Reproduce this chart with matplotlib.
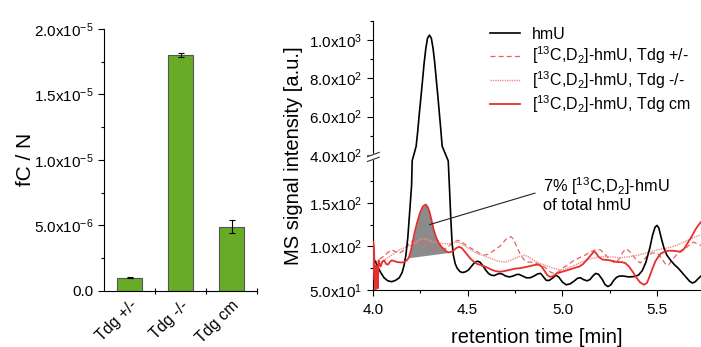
import numpy as np
import matplotlib.pyplot as plt

plt.rcParams['font.family'] = ['Liberation Sans', 'DejaVu Sans']
plt.rcParams['mathtext.fontset'] = 'custom'
plt.rcParams['mathtext.rm'] = 'Liberation Sans'
plt.rcParams['mathtext.it'] = 'Liberation Sans:italic'
plt.rcParams['axes.linewidth'] = 0.8

# left panel: fC / N per genotype
groups = ['Tdg +/-', 'Tdg -/-', 'Tdg cm']
fc_n = [1.0e-6, 1.80e-5, 4.9e-6]
fc_err = [4e-8, 1.6e-7, 5.1e-7]

# right panel: chromatograms (retention time in min, intensity in a.u.)
t_hmu = [4.00, 4.01, 4.02, 4.03, 4.045, 4.06, 4.08, 4.10, 4.12, 4.14, 4.155, 4.165, 4.175,
         4.185, 4.195, 4.205, 4.208, 4.229, 4.238, 4.245, 4.254, 4.262, 4.271, 4.280, 4.289,
         4.299, 4.309, 4.318, 4.327, 4.336, 4.344, 4.352, 4.359, 4.366, 4.398, 4.405, 4.412,
         4.418, 4.425, 4.435, 4.445, 4.46, 4.475, 4.49, 4.505, 4.52, 4.535, 4.55, 4.565,
         4.58, 4.595, 4.61, 4.625, 4.64, 4.655, 4.67, 4.685, 4.70, 4.72, 4.74, 4.755, 4.77,
         4.79, 4.81, 4.83, 4.85, 4.87, 4.885, 4.90, 4.915, 4.93, 4.95, 4.965, 4.98, 5.00,
         5.02, 5.04, 5.06, 5.08, 5.095, 5.11, 5.13, 5.145, 5.16, 5.175, 5.19, 5.21, 5.225,
         5.24, 5.255, 5.27, 5.285, 5.30, 5.32, 5.35, 5.38, 5.40, 5.42, 5.44, 5.46, 5.475,
         5.488, 5.498, 5.508, 5.52, 5.535, 5.55, 5.57, 5.59, 5.61, 5.63, 5.65, 5.67, 5.685,
         5.70, 5.715, 5.73]
v_hmu = [88, 84, 80, 75, 69, 64, 60.5, 59.5, 61, 64, 70, 78, 90,
         110, 140, 170, 198, 445, 530, 609, 700, 783, 880, 957, 1010,
         1026, 1010, 957, 880, 783, 700, 609, 530, 445, 198, 165, 130,
         105, 90, 80, 75, 71, 70, 71, 73, 77, 81, 83, 82,
         78, 73, 69, 67, 66.5, 68, 69, 68, 66, 65, 66, 67.5, 68,
         66, 64, 64, 66, 68.5, 69, 65, 61, 61, 64, 67, 65, 59,
         56, 57, 60, 63.5, 64, 62, 60.5, 62, 66, 69, 68, 62, 56,
         54, 56, 61, 64.5, 66, 66, 65, 65.5, 67, 72, 82, 98, 113,
         122, 124, 121, 110, 98, 90, 84, 79, 75, 70, 65, 60, 58,
         59.5, 63, 66]

t_het = [4.00, 4.02, 4.04, 4.06, 4.08, 4.10, 4.12, 4.14, 4.16, 4.18, 4.20, 4.22, 4.24,
         4.26, 4.28, 4.30, 4.32, 4.35, 4.38, 4.40, 4.42, 4.45, 4.475, 4.50, 4.525, 4.55,
         4.57, 4.59, 4.61, 4.63, 4.65, 4.67, 4.69, 4.71, 4.73, 4.745, 4.76, 4.78, 4.80,
         4.82, 4.84, 4.86, 4.88, 4.90, 4.92, 4.94, 4.96, 4.98, 5.00, 5.03, 5.06, 5.09,
         5.12, 5.15, 5.18, 5.20, 5.22, 5.24, 5.26, 5.28, 5.30, 5.32, 5.335, 5.35, 5.37,
         5.39, 5.41, 5.43, 5.45, 5.475, 5.50, 5.52, 5.545, 5.56, 5.58, 5.60, 5.625, 5.65,
         5.67, 5.69, 5.71, 5.73]
v_het = [80, 83, 86, 89, 93, 96, 94, 92, 95, 100, 105, 107, 106,
         104, 102, 101, 99, 96, 97, 100, 104, 107, 104, 100, 97, 94,
         91, 90, 91, 94, 97, 100, 105, 110, 111, 107, 99, 90, 84,
         82, 82, 81, 79, 77, 74, 70, 69, 71, 75, 79, 84, 87,
         90, 94, 96.5, 96, 92, 87, 83, 81, 86, 94, 97, 95, 90,
         84, 81, 85, 90, 92.5, 92, 87, 79, 79, 85, 90, 94, 98,
         102, 105, 103, 101]

t_ko = [4.00, 4.02, 4.04, 4.06, 4.08, 4.10, 4.125, 4.15, 4.175, 4.20, 4.23, 4.26, 4.285,
        4.31, 4.33, 4.35, 4.375, 4.40, 4.425, 4.45, 4.475, 4.50, 4.525, 4.55, 4.575, 4.60,
        4.625, 4.65, 4.675, 4.70, 4.725, 4.75, 4.775, 4.80, 4.825, 4.85, 4.875, 4.90, 4.925,
        4.95, 4.975, 5.00, 5.025, 5.05, 5.075, 5.10, 5.125, 5.15, 5.175, 5.20, 5.225, 5.25,
        5.275, 5.30, 5.325, 5.35, 5.375, 5.40, 5.425, 5.45, 5.475, 5.50, 5.525, 5.55,
        5.575, 5.60, 5.625, 5.65, 5.675, 5.70, 5.73]
v_ko = [72, 77, 81, 84, 87, 90, 94, 97, 99, 101, 105, 109, 108,
        106, 104.5, 104, 103, 103, 104, 105, 102, 98, 95, 92, 90, 88,
        86, 84, 82.5, 82, 84, 86, 88.5, 90, 87.5, 84, 81, 79, 77,
        75, 73.5, 73, 75, 77, 79.5, 82, 84, 86, 87, 88, 88.5, 88,
        87.5, 87, 87.5, 88, 89, 90, 91.5, 93, 94.5, 96, 97, 98,
        99.5, 101, 103.5, 106, 108.5, 111, 113]

t_cm = [4.000, 4.003, 4.007, 4.011, 4.015, 4.019, 4.023, 4.027, 4.031, 4.036, 4.042, 4.05,
        4.06, 4.07, 4.08, 4.09, 4.10, 4.115, 4.13, 4.15, 4.165, 4.18, 4.19, 4.20, 4.21,
        4.22, 4.235, 4.25, 4.265, 4.28, 4.29, 4.30, 4.31, 4.32, 4.335, 4.35, 4.365, 4.38,
        4.39, 4.40, 4.41, 4.425, 4.44, 4.455, 4.47, 4.485, 4.50, 4.515, 4.53, 4.55, 4.57,
        4.59, 4.61, 4.63, 4.65, 4.67, 4.69, 4.72, 4.75, 4.775, 4.80, 4.83, 4.86, 4.875,
        4.89, 4.905, 4.92, 4.935, 4.95, 4.97, 5.00, 5.03, 5.06, 5.09, 5.11, 5.13, 5.15,
        5.165, 5.175, 5.19, 5.21, 5.23, 5.25, 5.27, 5.29, 5.31, 5.33, 5.35, 5.37, 5.39,
        5.41, 5.43, 5.445, 5.46, 5.475, 5.49, 5.505, 5.52, 5.54, 5.56, 5.58, 5.60, 5.62,
        5.64, 5.66, 5.68, 5.70, 5.715, 5.73]
v_cm = [62, 105, 98, 64, 42, 78, 62, 52, 84, 80, 77, 82,
        84, 80, 79, 82, 84, 83, 82, 81.5, 82, 84, 87, 94, 104,
        115, 128, 139, 146, 148, 145, 139, 130, 120, 110, 103, 99, 96,
        94, 93, 93.5, 95, 98, 99.5, 98, 94, 90, 86, 83, 80, 78.5,
        77, 75, 73, 71.5, 71, 71.5, 73, 74.5, 75, 76, 77.5, 79, 79,
        77, 72, 67, 65, 66, 69, 71, 73, 75, 77, 80, 85, 90,
        94, 93, 88, 85, 84.5, 84, 83, 82, 82, 81, 77, 71, 64,
        58.5, 56, 58, 66, 75, 83, 88, 92, 94, 95, 95, 94.5, 94,
        97, 104, 111, 119, 124, 128]

peak_start, peak_end = 4.19, 4.40

y_major = [50, 100, 150, 400, 600, 800, 1000]
y_minor = [75, 125, 175, 500, 700, 900, 1100]


def sci(v):
    if v == 0:
        return '0.0'
    e = int(np.floor(np.log10(abs(v)) + 1e-9))
    return '%.1fx10$^{%d}$' % (v / 10 ** e, e)


# broken axis: 50-200 linear, short gap, 400-1100 compressed
BV = [0, 200, 400, 1200]
BU = [0, 200, 205, 205 + 800 * 0.219]


def fwd(v):
    return np.interp(v, BV, BU)


def inv(u):
    return np.interp(u, BU, BV)


fig = plt.figure(figsize=(7.01, 3.47), dpi=100)

# ---- left: bars
ax1 = fig.add_axes([104 / 701, 1 - 290.7 / 347, 153 / 701, 261.7 / 347])
x = np.arange(1, len(groups) + 1)
ax1.bar(x, fc_n, width=0.5, color='#67ab27', edgecolor='#555555', linewidth=0.8)
ax1.errorbar(x, fc_n, yerr=fc_err, fmt='none', ecolor='black', elinewidth=0.8,
             capsize=2.5, capthick=0.8)
ax1.set_xlim(0.5, 3.5)
ax1.set_ylim(0, 2.0e-5)
ax1.set_yticks([0, 5e-6, 1e-5, 1.5e-5, 2e-5])
ax1.set_yticklabels([sci(v) for v in [0, 5e-6, 1e-5, 1.5e-5, 2e-5]])
ax1.set_yticks([2.5e-6, 7.5e-6, 1.25e-5, 1.75e-5], minor=True)
ax1.set_xticks([1.5, 2.5, 3.5])
ax1.set_xticklabels([])
ax1.set_xticks(x, groups, minor=True, rotation=45, ha='right', rotation_mode='anchor')
ax1.tick_params(axis='x', which='major', direction='inout', length=5, width=0.8)
ax1.tick_params(axis='x', which='minor', length=0, pad=5, labelsize=11.5)
ax1.tick_params(axis='y', which='major', length=4, width=0.8, labelsize=11)
ax1.tick_params(axis='y', which='minor', length=2.5, width=0.8)
ax1.set_ylabel('fC / N', fontsize=15, labelpad=-1)
for s in ['top', 'right']:
    ax1.spines[s].set_visible(False)

# ---- right: chromatograms
ax2 = fig.add_axes([372.7 / 701, 1 - 290 / 347, 328.3 / 701, 269 / 347])
ax2.set_yscale('function', functions=(fwd, inv))
red = '#e5302d'
v_black = np.array(v_hmu, dtype=float)
v_black = np.where((v_black > 199) & (v_black < 444), np.nan, v_black)
ax2.plot(t_hmu, v_black, color='black', lw=1.2, label='hmU', zorder=4)
ax2.plot(t_het, v_het, color='#ea5f5c', lw=0.9, ls=(0, (4, 2.5)),
         label='[$^{13}$C,D$_2$]-hmU, Tdg +/-', zorder=3)
ax2.plot(t_ko, v_ko, color='#f08e8b', lw=1.0, ls=(0, (1, 0.7)),
         label='[$^{13}$C,D$_2$]-hmU, Tdg -/-', zorder=3)
ax2.plot(t_cm, v_cm, color=red, lw=1.3, label='[$^{13}$C,D$_2$]-hmU, Tdg cm', zorder=5)

tc = np.array(t_cm)
vc = np.array(v_cm, dtype=float)
sel = (tc >= peak_start) & (tc <= peak_end)
base = np.interp(tc[sel], [peak_start, peak_end],
                 [vc[tc == peak_start][0], vc[tc == peak_end][0]])
ax2.fill_between(tc[sel], base, vc[sel], color='#8b8b8b', lw=0, zorder=2)

ax2.set_xlim(4.0, 5.73)
ax2.set_ylim(50, 1100)
ax2.set_xticks([4.0, 4.5, 5.0, 5.5])
ax2.set_xticks([4.25, 4.75, 5.25], minor=True)
ax2.set_yticks(y_major)
ax2.set_yticklabels([sci(v) for v in y_major])
ax2.set_yticks(y_minor, minor=True)
ax2.tick_params(which='major', length=4, width=0.8, labelsize=11)
ax2.tick_params(axis='x', which='major', pad=5)
ax2.tick_params(which='minor', length=2.5, width=0.8)
ax2.set_xlabel('retention time [min]', fontsize=14.5, labelpad=8)
ax2.set_ylabel('MS signal intensity [a.u.]', fontsize=14.5, labelpad=4)
for s in ['top', 'right']:
    ax2.spines[s].set_visible(False)

# axis break marks
yb = (fwd(300) - fwd(50)) / (fwd(1100) - fwd(50))
for dy in (-0.009, 0.009):
    ax2.plot([-0.016, 0.02], [yb + dy - 0.008, yb + dy + 0.008], transform=ax2.transAxes,
             color='#333333', lw=0.8, clip_on=False, zorder=6)
ax2.fill([-0.016, 0.02, 0.02, -0.016],
         [yb - 0.017, yb - 0.001, yb + 0.017, yb + 0.001],
         transform=ax2.transAxes, color='white', clip_on=False, zorder=5.5)

ax2.annotate('', xy=(4.285, 124), xytext=(4.87, 162),
             arrowprops=dict(arrowstyle='-', lw=0.8, color='#222222'), zorder=6)
ax2.text(4.895, 160, '7% [$^{13}$C,D$_2$]-hmU\nof total hmU', fontsize=11.8,
         ha='left', va='center', linespacing=1.1, zorder=6)

fig.legend(loc='upper left', bbox_to_anchor=(490 / 701, 1 - 27 / 347), frameon=False,
           fontsize=11.5, handlelength=1.9, handletextpad=0.7, labelspacing=0.16,
           borderpad=0, borderaxespad=0)

fig.savefig('out.png', dpi=100)
